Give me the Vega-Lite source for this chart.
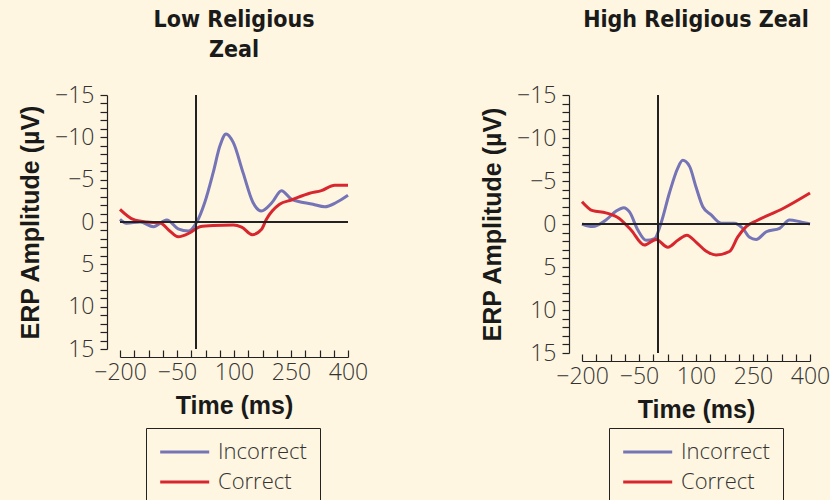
{
  "$schema": "https://vega.github.io/schema/vega-lite/v6.json",
  "background": "#FEF6E0",
  "padding": {"left": 18, "top": 9, "right": 0, "bottom": 0},
  "autosize": {"type": "pad"},
  "bounds": "flush",
  "spacing": 234,
  "config": {
    "view": {"stroke": null},
    "axis": {
      "grid": false,
      "tickCount": 60,
      "domainColor": "#222222",
      "tickColor": "#222222",
      "domainWidth": 1.2,
      "tickWidth": 1.2,
      "labelFont": "Open Sans",
      "labelFontWeight": 300,
      "labelFontSize": 23,
      "labelColor": "#333333",
      "labelOverlap": false,
      "labelFlush": false,
      "labelBound": false,
      "titleFont": "Liberation Sans",
      "titleFontSize": 25,
      "titleFontWeight": "bold",
      "titleColor": "#1a1a1a"
    },
    "title": {"font": "DejaVu Sans Condensed", "fontSize": 23, "fontWeight": "bold", "color": "#1a1a1a", "lineHeight": 30},
    "legend": {
      "title": null,
      "orient": "none",
      "direction": "vertical",
      "symbolType": "M-2,0H8",
      "symbolSize": 96,
      "symbolStrokeWidth": 3,
      "labelFont": "Open Sans",
      "labelFontWeight": 300,
      "labelFontSize": 22,
      "labelColor": "#333333",
      "labelOffset": 37,
      "strokeColor": "#222222",
      "padding": 13,
      "rowPadding": 8
    }
  },
  "datasets": {
    "erp": [
      {"panel": "Low", "condition": "Incorrect", "time": -200, "amp": -0.3},
      {"panel": "Low", "condition": "Incorrect", "time": -183, "amp": 0.15},
      {"panel": "Low", "condition": "Incorrect", "time": -147, "amp": 0.0},
      {"panel": "Low", "condition": "Incorrect", "time": -112, "amp": 0.55},
      {"panel": "Low", "condition": "Incorrect", "time": -77, "amp": -0.25},
      {"panel": "Low", "condition": "Incorrect", "time": -47, "amp": 0.8},
      {"panel": "Low", "condition": "Incorrect", "time": -20, "amp": 1.07},
      {"panel": "Low", "condition": "Incorrect", "time": 1, "amp": 0.1},
      {"panel": "Low", "condition": "Incorrect", "time": 23, "amp": -2.3},
      {"panel": "Low", "condition": "Incorrect", "time": 45, "amp": -5.8},
      {"panel": "Low", "condition": "Incorrect", "time": 63, "amp": -9.0},
      {"panel": "Low", "condition": "Incorrect", "time": 79, "amp": -10.4},
      {"panel": "Low", "condition": "Incorrect", "time": 98, "amp": -9.4},
      {"panel": "Low", "condition": "Incorrect", "time": 124, "amp": -5.8},
      {"panel": "Low", "condition": "Incorrect", "time": 150, "amp": -2.3},
      {"panel": "Low", "condition": "Incorrect", "time": 172, "amp": -1.3},
      {"panel": "Low", "condition": "Incorrect", "time": 200, "amp": -2.3},
      {"panel": "Low", "condition": "Incorrect", "time": 225, "amp": -3.7},
      {"panel": "Low", "condition": "Incorrect", "time": 251, "amp": -2.7},
      {"panel": "Low", "condition": "Incorrect", "time": 308, "amp": -2.1},
      {"panel": "Low", "condition": "Incorrect", "time": 339, "amp": -1.8},
      {"panel": "Low", "condition": "Incorrect", "time": 369, "amp": -2.3},
      {"panel": "Low", "condition": "Incorrect", "time": 400, "amp": -3.15},
      {"panel": "Low", "condition": "Correct", "time": -200, "amp": -1.5},
      {"panel": "Low", "condition": "Correct", "time": -165, "amp": -0.3},
      {"panel": "Low", "condition": "Correct", "time": -130, "amp": 0.0},
      {"panel": "Low", "condition": "Correct", "time": -95, "amp": 0.1},
      {"panel": "Low", "condition": "Correct", "time": -69, "amp": 1.07},
      {"panel": "Low", "condition": "Correct", "time": -47, "amp": 1.75},
      {"panel": "Low", "condition": "Correct", "time": -16, "amp": 1.27},
      {"panel": "Low", "condition": "Correct", "time": 10, "amp": 0.55},
      {"panel": "Low", "condition": "Correct", "time": 45, "amp": 0.4},
      {"panel": "Low", "condition": "Correct", "time": 98, "amp": 0.35},
      {"panel": "Low", "condition": "Correct", "time": 120, "amp": 0.6},
      {"panel": "Low", "condition": "Correct", "time": 148, "amp": 1.5},
      {"panel": "Low", "condition": "Correct", "time": 172, "amp": 0.9},
      {"panel": "Low", "condition": "Correct", "time": 185, "amp": -0.3},
      {"panel": "Low", "condition": "Correct", "time": 220, "amp": -2.1},
      {"panel": "Low", "condition": "Correct", "time": 251, "amp": -2.6},
      {"panel": "Low", "condition": "Correct", "time": 299, "amp": -3.4},
      {"panel": "Low", "condition": "Correct", "time": 330, "amp": -3.7},
      {"panel": "Low", "condition": "Correct", "time": 365, "amp": -4.35},
      {"panel": "Low", "condition": "Correct", "time": 400, "amp": -4.35},
      {"panel": "High", "condition": "Incorrect", "time": -200, "amp": 0.0},
      {"panel": "High", "condition": "Incorrect", "time": -172, "amp": 0.3},
      {"panel": "High", "condition": "Incorrect", "time": -137, "amp": -0.46},
      {"panel": "High", "condition": "Incorrect", "time": -110, "amp": -1.5},
      {"panel": "High", "condition": "Incorrect", "time": -90, "amp": -1.9},
      {"panel": "High", "condition": "Incorrect", "time": -75, "amp": -1.4},
      {"panel": "High", "condition": "Incorrect", "time": -53, "amp": 0.7},
      {"panel": "High", "condition": "Incorrect", "time": -31, "amp": 1.9},
      {"panel": "High", "condition": "Incorrect", "time": -9, "amp": 1.7},
      {"panel": "High", "condition": "Incorrect", "time": 8, "amp": -0.1},
      {"panel": "High", "condition": "Incorrect", "time": 30, "amp": -3.6},
      {"panel": "High", "condition": "Incorrect", "time": 52, "amp": -6.5},
      {"panel": "High", "condition": "Incorrect", "time": 65, "amp": -7.4},
      {"panel": "High", "condition": "Incorrect", "time": 83, "amp": -6.7},
      {"panel": "High", "condition": "Incorrect", "time": 100, "amp": -4.3},
      {"panel": "High", "condition": "Incorrect", "time": 118, "amp": -2.0},
      {"panel": "High", "condition": "Incorrect", "time": 140, "amp": -1.05},
      {"panel": "High", "condition": "Incorrect", "time": 166, "amp": -0.1},
      {"panel": "High", "condition": "Incorrect", "time": 201, "amp": -0.1},
      {"panel": "High", "condition": "Incorrect", "time": 223, "amp": 0.5},
      {"panel": "High", "condition": "Incorrect", "time": 241, "amp": 1.55},
      {"panel": "High", "condition": "Incorrect", "time": 258, "amp": 1.8},
      {"panel": "High", "condition": "Incorrect", "time": 285, "amp": 0.9},
      {"panel": "High", "condition": "Incorrect", "time": 320, "amp": 0.5},
      {"panel": "High", "condition": "Incorrect", "time": 346, "amp": -0.46},
      {"panel": "High", "condition": "Incorrect", "time": 373, "amp": -0.27},
      {"panel": "High", "condition": "Incorrect", "time": 400, "amp": 0.0},
      {"panel": "High", "condition": "Correct", "time": -200, "amp": -2.6},
      {"panel": "High", "condition": "Correct", "time": -172, "amp": -1.55},
      {"panel": "High", "condition": "Correct", "time": -137, "amp": -1.3},
      {"panel": "High", "condition": "Correct", "time": -102, "amp": -0.65},
      {"panel": "High", "condition": "Correct", "time": -71, "amp": 0.7},
      {"panel": "High", "condition": "Correct", "time": -36, "amp": 2.45},
      {"panel": "High", "condition": "Correct", "time": -5, "amp": 1.8},
      {"panel": "High", "condition": "Correct", "time": 26, "amp": 2.7},
      {"panel": "High", "condition": "Correct", "time": 53, "amp": 1.86},
      {"panel": "High", "condition": "Correct", "time": 76, "amp": 1.3},
      {"panel": "High", "condition": "Correct", "time": 100, "amp": 2.1},
      {"panel": "High", "condition": "Correct", "time": 125, "amp": 3.1},
      {"panel": "High", "condition": "Correct", "time": 153, "amp": 3.6},
      {"panel": "High", "condition": "Correct", "time": 188, "amp": 3.2},
      {"panel": "High", "condition": "Correct", "time": 210, "amp": 1.5},
      {"panel": "High", "condition": "Correct", "time": 232, "amp": 0.3},
      {"panel": "High", "condition": "Correct", "time": 258, "amp": -0.35},
      {"panel": "High", "condition": "Correct", "time": 329, "amp": -1.8},
      {"panel": "High", "condition": "Correct", "time": 400, "amp": -3.6}
    ]
  },
  "hconcat": [
    {
      "width": 228,
      "height": 254,
      "title": {"text": ["Low Religious", "Zeal"], "offset": 22},
      "data": {"name": "erp"},
      "transform": [{"filter": "datum.panel === 'Low'"}],
      "layer": [
        {
          "mark": {"type": "line", "interpolate": "monotone", "strokeWidth": 3},
          "encoding": {
            "x": {"field": "time", "type": "quantitative",
              "scale": {"domain": [-200, 400], "nice": false, "zero": false},
              "axis": {"title": "Time (ms)", "offset": 8, "tickSize": -7, "labelPadding": 11, "titlePadding": 9,
                "values": [-200, -162.5, -125, -87.5, -50, -12.5, 25, 62.5, 100, 137.5, 175, 212.5, 250, 287.5, 325, 362.5, 400],
                "labelExpr": "(datum.value + 200) % 150 === 0 ? format(datum.value, 'd') : ''"}},
            "y": {"field": "amp", "type": "quantitative",
              "scale": {"domain": [-15, 15], "reverse": true, "nice": false, "zero": false},
              "axis": {"title": "ERP Amplitude (µV)", "offset": 13, "tickSize": 7, "labelPadding": 6, "titlePadding": 11,
                "values": [-15, -14, -13, -12, -11, -10, -9, -8, -7, -6, -5, -4, -3, -2, -1, 0, 1, 2, 3, 4, 5, 6, 7, 8, 9, 10, 11, 12, 13, 14, 15],
                "labelExpr": "datum.value % 5 === 0 ? format(datum.value, 'd') : ''"}},
            "color": {"field": "condition", "type": "nominal",
              "scale": {"domain": ["Incorrect", "Correct"], "range": ["#7474B6", "#D8262F"]},
              "legend": {"legendX": 26, "legendY": 333}}
          }
        },
        {
          "mark": {"type": "rule", "color": "#222222", "strokeWidth": 1.2},
          "encoding": {"y": {"datum": 0, "type": "quantitative"}}
        },
        {
          "mark": {"type": "rule", "color": "#222222", "strokeWidth": 1.2},
          "encoding": {"x": {"datum": 0, "type": "quantitative"}}
        }
      ]
    },
    {
      "width": 228,
      "height": 258,
      "title": {"text": "High Religious Zeal", "offset": 52},
      "data": {"name": "erp"},
      "transform": [{"filter": "datum.panel === 'High'"}],
      "layer": [
        {
          "mark": {"type": "line", "interpolate": "monotone", "strokeWidth": 3},
          "encoding": {
            "x": {"field": "time", "type": "quantitative",
              "scale": {"domain": [-200, 400], "nice": false, "zero": false},
              "axis": {"title": "Time (ms)", "offset": 8, "tickSize": -7, "labelPadding": 11, "titlePadding": 9,
                "values": [-200, -162.5, -125, -87.5, -50, -12.5, 25, 62.5, 100, 137.5, 175, 212.5, 250, 287.5, 325, 362.5, 400],
                "labelExpr": "(datum.value + 200) % 150 === 0 ? format(datum.value, 'd') : ''"}},
            "y": {"field": "amp", "type": "quantitative",
              "scale": {"domain": [-15, 15], "reverse": true, "nice": false, "zero": false},
              "axis": {"title": "ERP Amplitude (µV)", "offset": 13, "tickSize": 7, "labelPadding": 6, "titlePadding": 11,
                "values": [-15, -14, -13, -12, -11, -10, -9, -8, -7, -6, -5, -4, -3, -2, -1, 0, 1, 2, 3, 4, 5, 6, 7, 8, 9, 10, 11, 12, 13, 14, 15],
                "labelExpr": "datum.value % 5 === 0 ? format(datum.value, 'd') : ''"}},
            "color": {"field": "condition", "type": "nominal",
              "scale": {"domain": ["Incorrect", "Correct"], "range": ["#7474B6", "#D8262F"]},
              "legend": {"legendX": 27, "legendY": 333}}
          }
        },
        {
          "mark": {"type": "rule", "color": "#222222", "strokeWidth": 1.2},
          "encoding": {"y": {"datum": 0, "type": "quantitative"}}
        },
        {
          "mark": {"type": "rule", "color": "#222222", "strokeWidth": 1.2},
          "encoding": {"x": {"datum": 0, "type": "quantitative"}}
        }
      ]
    }
  ],
  "resolve": {"scale": {"color": "independent"}, "legend": {"color": "independent"}}
}
